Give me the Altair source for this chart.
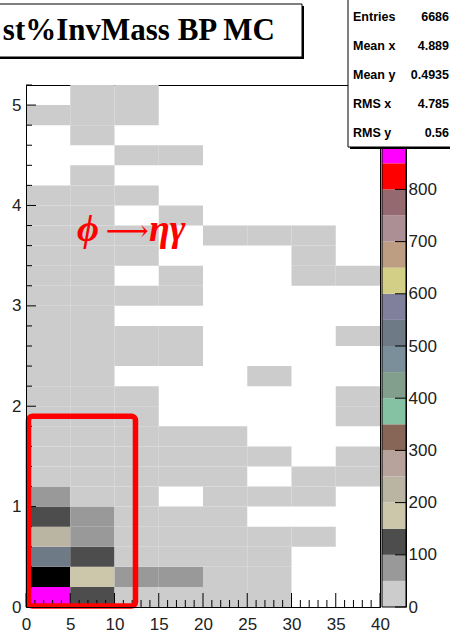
import altair as alt
import pandas as pd

# ---------------- data ----------------
x_edges = [0, 5, 10, 15, 20, 25, 30, 35, 40]
y_edges = [0.0, 0.2, 0.4, 0.6, 0.8, 1.0, 1.2, 1.4, 1.6, 1.8, 2.0, 2.2, 2.4, 2.6,
           2.8, 3.0, 3.2, 3.4, 3.6, 3.8, 4.0, 4.2, 4.4, 4.6, 4.8, 5.0, 5.2]

# counts per y-row (bottom to top), 8 x-bins each; 0 = empty bin
counts = [
    [880, 120, 40, 30, 20, 10, 0, 0],
    [990, 180, 60, 55, 25, 12, 0, 0],
    [520, 125, 45, 35, 20, 8, 0, 0],
    [230, 80, 40, 25, 12, 5, 3, 0],
    [130, 65, 35, 20, 8, 0, 0, 0],
    [70, 45, 30, 0, 6, 4, 2, 0],
    [48, 40, 25, 12, 5, 0, 2, 1],
    [45, 35, 20, 10, 4, 3, 0, 1],
    [40, 30, 18, 8, 3, 0, 0, 0],
    [38, 28, 12, 0, 0, 0, 0, 1],
    [35, 25, 10, 0, 0, 0, 0, 1],
    [32, 22, 0, 0, 0, 1, 0, 0],
    [30, 20, 8, 3, 0, 0, 0, 0],
    [28, 18, 6, 2, 0, 0, 0, 1],
    [26, 15, 0, 0, 0, 0, 0, 0],
    [25, 14, 5, 2, 0, 0, 0, 0],
    [22, 12, 0, 2, 0, 0, 1, 1],
    [20, 10, 4, 0, 0, 0, 1, 0],
    [18, 9, 3, 0, 1, 1, 1, 0],
    [15, 8, 0, 2, 0, 0, 0, 0],
    [12, 6, 2, 0, 0, 0, 0, 0],
    [0, 4, 0, 0, 0, 0, 0, 0],
    [0, 0, 2, 1, 0, 0, 0, 0],
    [0, 3, 0, 0, 0, 0, 0, 0],
    [5, 3, 1, 0, 0, 0, 0, 0],
    [0, 2, 1, 0, 0, 0, 0, 0],
]

palette_edges = [0, 50, 100, 150, 200, 250, 300, 350, 400, 450, 500, 550, 600,
                 650, 700, 750, 800, 850, 900, 950, 1000]
palette_colors = ["#cccccc", "#999999", "#4d4d4d", "#ccc7ab", "#bab5a3", "#b8a39c",
                  "#876657", "#85c2a3", "#829e8c", "#7a8f99", "#6e7a85", "#80809c",
                  "#d4cf87", "#bd9e82", "#ab8f94", "#946970", "#ff0000", "#ff00ff",
                  "#00ff00", "#000000"]
palette_ticks = [0, 100, 200, 300, 400, 500, 600, 700, 800, 900, 1000]
palette_labels = [0, 100, 200, 300, 400, 500, 600, 700, 800]  # 900/1000 sit under the stats box

x_major = [0, 5, 10, 15, 20, 25, 30, 35, 40]
x_minor = [1, 2, 3, 4, 6, 7, 8, 9, 11, 12, 13, 14, 16, 17, 18, 19, 21, 22, 23, 24,
           26, 27, 28, 29, 31, 32, 33, 34, 36, 37, 38, 39]
y_major = [0, 1, 2, 3, 4, 5]
y_minor = [0.2, 0.4, 0.6, 0.8, 1.2, 1.4, 1.6, 1.8, 2.2, 2.4, 2.6, 2.8, 3.2, 3.4,
           3.6, 3.8, 4.2, 4.4, 4.6, 4.8, 5.2]

title_text = "st%InvMass BP MC"
stats_labels = ["Entries", "Mean x", "Mean y", "RMS x", "RMS y"]
stats_values = ["6686", "4.889", "0.4935", "4.785", "0.56"]

# annotation "ϕ→ηγ" in three pieces (x = left edge in data units, y = baseline)
annot_phi = {"x": 5.76, "y": 3.65, "t": "ϕ"}
annot_arrow = {"x": 9.0, "y": 3.65, "t": "⟶"}
annot_eg = {"x": 13.9, "y": 3.65, "t": "ηγ"}
box = {"x0": 0.28, "x1": 12.37, "y0": 0.01, "y1": 1.90}

# ---------------- build ----------------
W, H = 354, 522
FONT = "Liberation Sans"

cells = []
for i, row in enumerate(counts):
    for j, v in enumerate(row):
        if v > 0:
            cells.append({"x0": x_edges[j], "x1": x_edges[j + 1],
                          "y0": y_edges[i], "y1": y_edges[i + 1], "n": v})
df_cells = pd.DataFrame(cells)

xscale = alt.Scale(domain=[0, 40], nice=False, zero=False)
yscale = alt.Scale(domain=[0, 5.2], nice=False, zero=False)
x_axis = alt.Axis(values=x_major, title=None, ticks=False, grid=False, labelFontSize=17,
                  labelFont=FONT, labelColor="#222", labelPadding=9, labelFlush=False,
                  domainColor="black", labelAngle=0, zindex=1)
y_axis = alt.Axis(values=y_major, title=None, ticks=False, grid=False, labelFontSize=17,
                  labelFont=FONT, labelColor="#222", labelPadding=5, labelFlush=False,
                  domainColor="black", format="d", zindex=1)

heat = alt.Chart(df_cells).mark_rect(strokeWidth=0).encode(
    x=alt.X("x0:Q", scale=xscale, axis=x_axis),
    x2="x1:Q",
    y=alt.Y("y0:Q", scale=yscale, axis=y_axis),
    y2="y1:Q",
    color=alt.Color("n:Q", scale=alt.Scale(type="threshold", domain=palette_edges[1:-1],
                                           range=palette_colors), legend=None),
)

xt_major = alt.Chart(pd.DataFrame({"t": x_major})).mark_rule(color="black", strokeWidth=1).encode(
    x=alt.X("t:Q", scale=xscale, axis=x_axis), y=alt.value(H), y2=alt.value(H - 14))
xt_minor = alt.Chart(pd.DataFrame({"t": x_minor})).mark_rule(color="black", strokeWidth=1).encode(
    x=alt.X("t:Q", scale=xscale, axis=x_axis), y=alt.value(H), y2=alt.value(H - 7))
yt_major = alt.Chart(pd.DataFrame({"t": y_major})).mark_rule(color="black", strokeWidth=1).encode(
    y=alt.Y("t:Q", scale=yscale, axis=y_axis), x=alt.value(0), x2=alt.value(10))
yt_minor = alt.Chart(pd.DataFrame({"t": y_minor})).mark_rule(color="black", strokeWidth=1).encode(
    y=alt.Y("t:Q", scale=yscale, axis=y_axis), x=alt.value(0), x2=alt.value(6))

redbox = alt.Chart(pd.DataFrame([box])).mark_rect(
    filled=False, stroke="#ff0000", strokeWidth=5.5, cornerRadius=4).encode(
    x=alt.X("x0:Q", scale=xscale, axis=x_axis), x2="x1:Q",
    y=alt.Y("y0:Q", scale=yscale, axis=y_axis), y2="y1:Q")


def annot_layer(piece, font, size, weight, style):
    kw = dict(align="left", baseline="alphabetic", font=font, fontSize=size,
              fontWeight=weight, color="#ff0000")
    if style:
        kw["fontStyle"] = style
    return alt.Chart(pd.DataFrame([piece])).mark_text(**kw).encode(
        x=alt.X("x:Q", scale=xscale, axis=x_axis),
        y=alt.Y("y:Q", scale=yscale, axis=y_axis), text="t:N")


a_phi = annot_layer(annot_phi, "Liberation Serif", 38, "bold", "italic")
a_arrow = annot_layer(annot_arrow, "DejaVu Serif", 30, "normal", None)
a_eg = annot_layer(annot_eg, "Liberation Serif", 38, "bold", "italic")

main = alt.layer(heat, xt_major, xt_minor, yt_major, yt_minor, redbox, a_phi, a_arrow, a_eg)

# colour bar
cscale = alt.Scale(domain=[0, 1000], nice=False, zero=False)
c_axis = alt.Axis(orient="right", offset=26, values=palette_labels, title=None, ticks=False,
                  grid=False, labelFontSize=17, labelFont=FONT, labelColor="#222",
                  labelPadding=2, labelFlush=False, domainColor="black")
cb_df = pd.DataFrame({"lo": palette_edges[:-1], "hi": palette_edges[1:], "c": palette_colors})
bands = alt.Chart(cb_df).mark_rect(strokeWidth=0).encode(
    y=alt.Y("lo:Q", scale=cscale, axis=c_axis), y2="hi:Q",
    x=alt.value(W + 2), x2=alt.value(W + 26),
    color=alt.Color("c:N", scale=None))
cb_ticks = alt.Chart(pd.DataFrame({"v": palette_ticks})).mark_rule(color="black").encode(
    y=alt.Y("v:Q", scale=cscale, axis=c_axis), x=alt.value(W + 15), x2=alt.value(W + 26))
cbar = alt.layer(bands, cb_ticks)

one = pd.DataFrame({"k": [0]})
cb_outline = alt.Chart(one).mark_rect(filled=False, stroke="black", strokeWidth=1).encode(
    x=alt.value(W + 2), x2=alt.value(W + 26), y=alt.value(0), y2=alt.value(H))

# title pave (with shadow)
t_shadow = alt.Chart(one).mark_rect(color="black").encode(
    x=alt.value(-34), x2=alt.value(278), y=alt.value(-79), y2=alt.value(-26))
t_box = alt.Chart(one).mark_rect(fill="white", stroke="black", strokeWidth=1).encode(
    x=alt.value(-36), x2=alt.value(276), y=alt.value(-81), y2=alt.value(-28))
t_text = alt.Chart(one).mark_text(align="right", baseline="alphabetic", font="Liberation Serif",
                                  fontWeight="bold", fontSize=31, color="black").encode(
    x=alt.value(249), y=alt.value(-45), text=alt.value(title_text))

# stats box
s_shadow = alt.Chart(one).mark_rect(color="black").encode(
    x=alt.value(324), x2=alt.value(440), y=alt.value(-88), y2=alt.value(64))
s_box = alt.Chart(one).mark_rect(fill="white", stroke="black", strokeWidth=1).encode(
    x=alt.value(322), x2=alt.value(438), y=alt.value(-90), y2=alt.value(62))
s_lab = alt.Chart(one).mark_text(align="left", baseline="middle", font=FONT, fontWeight="bold",
                                 fontSize=12.5, lineHeight=29, color="black").encode(
    x=alt.value(327), y=alt.value(-68), text=alt.value(stats_labels))
s_val = alt.Chart(one).mark_text(align="right", baseline="middle", font=FONT, fontWeight="bold",
                                 fontSize=12.5, lineHeight=29, color="black").encode(
    x=alt.value(423), y=alt.value(-68), text=alt.value(stats_values))

chart = alt.layer(main, cbar, cb_outline, t_shadow, t_box, t_text,
                  s_shadow, s_box, s_lab, s_val).resolve_scale(
    y="independent", color="independent"
).properties(
    width=W, height=H,
    autosize=alt.AutoSizeParams(type="none"),
    padding={"left": 26, "top": 85, "right": 70, "bottom": 25},
    background="white",
).configure_view(stroke="black", strokeWidth=1)

chart.save("out.html", embed_options={"renderer": "svg", "actions": False})
